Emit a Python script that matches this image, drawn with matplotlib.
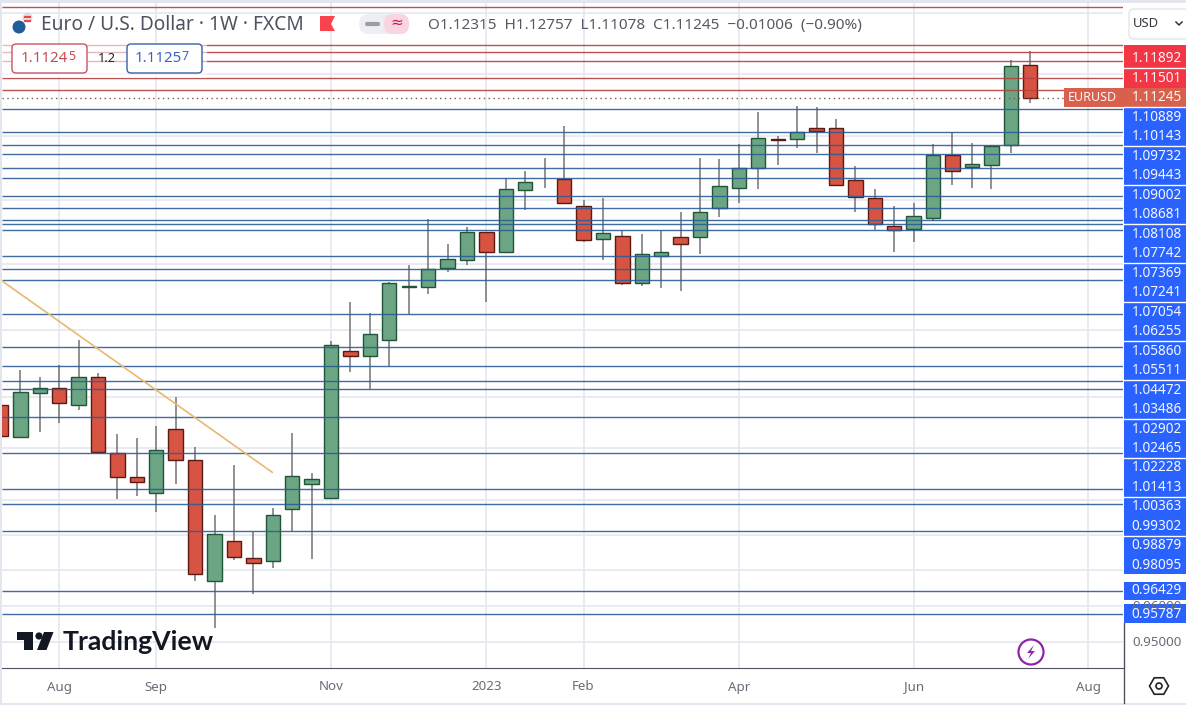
import numpy as np
import matplotlib
matplotlib.use("Agg")
import matplotlib.pyplot as plt
from matplotlib.patches import Rectangle, FancyBboxPatch, Circle, Polygon, RegularPolygon
from matplotlib.ticker import NullFormatter, NullLocator

plt.rcParams['font.family'] = ['Noto Sans', 'DejaVu Sans']

# weekly candles, first one is cut by the left edge
opens = [
    1.01750, 1.00809, 1.02103, 1.02251, 1.01750, 1.02580, 1.00343, 0.99648, 0.99185, 1.01044,
    1.00140, 0.96688, 0.97815, 0.97336, 0.97252, 0.98728, 0.99445, 0.99042, 1.03355, 1.03224,
    1.03703, 1.05284, 1.05290, 1.05892, 1.06137, 1.06983, 1.06383, 1.08293, np.nan, 1.08650,
    1.07793, 1.06784, 1.06859, 1.05432, 1.06242, 1.06827, 1.06846, 1.07731, 1.08375, 1.08988,
    1.09910, 1.09907, 1.10259, 1.10259, 1.08609, 1.08043, 1.07170, 1.07095, 1.07438, 1.09399,
    1.09030, 1.09102, 1.09716, 1.12315]
closes = [
    1.00856, 1.02132, 1.02251, 1.01809, 1.02580, 1.00390, 0.99648, 0.99520, 1.00430, 1.00140,
    0.96885, 0.98015, 0.97381, 0.97195, 0.98557, 0.99676, 0.99589, 1.03535, 1.03224, 1.03866,
    1.05413, 1.05315, 1.05843, 1.06150, 1.06983, 1.06383, 1.08324, 1.08546, np.nan, 1.07906,
    1.06753, 1.06952, 1.05432, 1.06322, 1.06383, 1.06629, 1.07606, 1.08419, 1.08998, 1.09939,
    1.09878, 1.10150, 1.10182, 1.08470, 1.08083, 1.07233, 1.07055, 1.07482, 1.09399, 1.08912,
    1.09115, 1.09684, 1.12259, 1.11245]
highs = [
    1.01750, 1.02797, 1.02598, 1.02947, 1.03694, 1.02717, 1.00906, 1.00789, 1.01141, 1.02003,
    1.00517, 0.98566, 1.00004, 0.98089, 0.98765, 1.00927, 0.99763, 1.03663, 1.04843, 1.04511,
    1.05453, 1.05975, 1.07388, 1.06620, 1.07139, 1.06983, 1.08672, 1.08903, 1.09314, 1.10333,
    1.07990, 1.08043, 1.07033, 1.06930, 1.07033, 1.07616, 1.09314, 1.09282, 1.09747, 1.10782,
    1.10012, 1.10974, 1.10932, 1.10557, 1.09061, 1.08334, 1.07803, 1.07896, 1.09747, 1.10150,
    1.09788, 1.09716, 1.12464, 1.12757]
lows = [
    1.00856, 1.00809, 1.00974, 1.01238, 1.01612, 1.00323, 0.99022, 0.99116, 0.98660, 0.99454,
    0.96705, 0.95380, 0.97297, 0.96332, 0.97063, 0.98100, 0.97316, 0.99042, 1.02747, 1.02230,
    1.02917, 1.04480, 1.05095, 1.05760, 1.05975, 1.04852, 1.06383, 1.07687, 1.08365, 1.07906,
    1.06681, 1.06137, 1.05361, 1.05339, 1.05278, 1.05177, 1.06313, 1.07469, 1.07896, 1.08343,
    1.09093, 1.09640, 1.09463, 1.08470, 1.07616, 1.07046, 1.06374, 1.06681, 1.07335, 1.08460,
    1.08365, 1.08334, 1.09463, 1.11078]

red_levels = [1.14205, 1.12950, 1.12720, 1.12430, 1.11892, 1.11501]
blue_levels = [1.10889, 1.10143, 1.09732, 1.09443, 1.09002, 1.08681, 1.08108, 1.07742, 1.07369,
               1.07241, 1.07054, 1.06255, 1.05860, 1.05511, 1.04472, 1.03486, 1.02902, 1.02465,
               1.02228, 1.01413, 1.00363, 0.99302, 0.98879, 0.98095, 0.96429, 0.95787]
last_price = 1.11245
grid_prices = [0.95, 0.96, 0.97, 0.98, 0.99, 1.005, 1.02, 1.04, 1.06, 1.08, 1.10, 1.12, 1.14]

trend_idx = [0.06, 13.97]
trend_price = [1.05484, 0.99792]

tick_idx = [3, 8, 17, 25, 30, 38, 47, 56]
tick_labels = ["Aug", "Sep", "Nov", "2023", "Feb", "Apr", "Jun", "Aug"]

stack_labels = ["1.10889", "1.10143", "1.09732", "1.09443", "1.09002", "1.08681", "1.08108",
                "1.07742", "1.07369", "1.07241", "1.07054", "1.06255", "1.05860", "1.05511",
                "1.04472", "1.03486", "1.02902", "1.02465", "1.02228", "1.01413", "1.00363",
                "0.99302", "0.98879", "0.98095"]

W, H = 1186, 705
UP, DOWN = "#6ba583", "#d75442"
UP_EDGE, DOWN_EDGE = "#225437", "#5b1a13"
BLUE_LINE, RED_LINE = "#2c5c98", "#b5403f"
LABEL_BLUE, LABEL_RED, LABEL_LAST = "#2962ff", "#f23645", "#d9604c"

fig = plt.figure(figsize=(W/100, H/100), dpi=100, facecolor="white")

# price pane: pixel x = 0.9 + 19.42*i, log price scale
ax = fig.add_axes([2/W, 1-668/H, 1121/W, 665/H])
ax.set_yscale("log")
ax.set_xlim((2-0.9)/19.42, (1123-0.9)/19.42)
ax.set_ylim(0.95*np.exp(-26/3449), 0.95*np.exp(639/3449))
ax.set_yticks(grid_prices)
ax.yaxis.set_major_formatter(NullFormatter())
ax.yaxis.set_minor_locator(NullLocator())
ax.set_xticks(tick_idx)
ax.set_xticklabels(tick_labels, fontsize=9.6, color="#6a6d78")
ax.get_xticklabels()[3].set_fontweight("bold")
ax.tick_params(length=0, pad=9)
ax.grid(True, color="#e6e8ee", lw=1.2, zorder=0)
ax.set_axisbelow(True)
for side in ["top", "left", "right"]:
    ax.spines[side].set_visible(False)
ax.spines["bottom"].set_color("#50535e")

idx = np.arange(len(opens))
o, c = np.array(opens), np.array(closes)
up = c >= o
ax.vlines(idx, lows, highs, color="#737375", lw=1.1, zorder=2)
has_body = ~np.isnan(o)
for mask, col, edge in [(up & has_body, UP, UP_EDGE), (~up & has_body, DOWN, DOWN_EDGE)]:
    ax.bar(idx[mask], np.abs(c - o)[mask], bottom=np.minimum(o, c)[mask], width=0.74,
           color=col, edgecolor=edge, lw=1.0, zorder=3)

ax.hlines(blue_levels, *ax.get_xlim(), color=BLUE_LINE, lw=1.0, alpha=0.9, zorder=4)
ax.hlines(red_levels, *ax.get_xlim(), color=RED_LINE, lw=1.0, alpha=0.9, zorder=4)
ax.hlines(last_price, ax.get_xlim()[0], (1064-0.9)/19.42, color="#7a5a50", lw=1.0,
          linestyles=(0, (1, 2.5)), zorder=4)
ax.plot(trend_idx, trend_price, color="#e9b872", lw=1.2, zorder=4)

# overlay in reference pixels for the chrome around the pane
ov = fig.add_axes([0, 0, 1, 1], zorder=5)
ov.set_xlim(0, W)
ov.set_ylim(H, 0)
ov.axis("off")
ov.patch.set_alpha(0)

ov.add_patch(Rectangle((0, 0), W, 3, color="#e3e6ee", lw=0))
ov.add_patch(Rectangle((0, 0), 2, H, color="#e3e6ee", lw=0))
ov.add_patch(Rectangle((0, 703), W, 2, color="#e3e6ee", lw=0))
ov.plot([1123.5, 1123.5], [623, 703], color="#50535e", lw=1.0)

# right scale
ov.text(1182, 642, "0.95000", ha="right", va="center", fontsize=9.6, color="#6a6d78")
ov.text(1182, 606, "0.96000", ha="right", va="center", fontsize=9.6, color="#6a6d78")
ov.add_patch(Rectangle((1124, 107), 62, 467, color=LABEL_BLUE, lw=0))
ov.add_patch(Rectangle((1124, 581.5), 62, 18.5, color=LABEL_BLUE, lw=0))
ov.add_patch(Rectangle((1124, 604), 62, 19, color=LABEL_BLUE, lw=0))
ov.add_patch(Rectangle((1124, 45), 62, 62, color=LABEL_RED, lw=0))
ov.add_patch(Rectangle((1064, 88), 122, 19, color=LABEL_LAST, lw=0))
ov.plot([1124, W], [68, 68], color="white", lw=1.0)
for k in range(12):
    ov.plot([1124, W], [107 + 39*k]*2, color="white", lw=1.0)

lab_kw = dict(ha="right", va="center", fontsize=9.8, color="white", fontweight="bold", alpha=0.95)
ov.text(1182, 59, "1.11892", **lab_kw)
ov.text(1182, 78, "1.11501", **lab_kw)
ov.text(1182, 97.5, "1.11245", **lab_kw)
ov.text(1117, 97.5, "EURUSD", ha="right", va="center", fontsize=9.0, color="white", fontweight="bold", alpha=0.95)
for k, s in enumerate(stack_labels):
    ov.text(1182, 117.5 + 19.47*k, s, **lab_kw)
ov.text(1182, 591, "0.96429", **lab_kw)
ov.text(1182, 614, "0.95787", **lab_kw)

# currency selector
ov.add_patch(Rectangle((1124, 4), 62, 38, color="white", lw=0))
ov.add_patch(FancyBboxPatch((1129, 9), 72, 30, boxstyle="round,pad=0,rounding_size=5",
                            fc="white", ec="#e3e6ee", lw=1))
ov.text(1133, 23.5, "USD", va="center", fontsize=9.4, color="#333640")
ov.plot([1176, 1179, 1182], [22, 25, 22], color="#333640", lw=1.1)

# header legend
ov.add_patch(Circle((19, 27), 6.5, color="#1f5c99", lw=0))
ov.add_patch(Circle((27.5, 18), 5, color="#d9d9e6", lw=0))
ov.add_patch(Rectangle((24, 15.5), 7, 2, color="#e8474c", lw=0))
ov.add_patch(Rectangle((24, 20), 7, 2, color="#e8474c", lw=0))
ov.text(41, 25, "Euro / U.S. Dollar \u00b7 1W \u00b7 FXCM", va="center", fontsize=13.8, color="#4f5260")
ov.add_patch(Polygon([(320, 16), (335, 16), (331, 24), (335, 31), (320, 31)], color="#f9444e", lw=0))
ov.add_patch(FancyBboxPatch((359, 14), 50, 20, boxstyle="round,pad=0,rounding_size=10",
                            fc="#eceef2", ec="none"))
ov.add_patch(FancyBboxPatch((384, 14), 25, 20, boxstyle="round,pad=0,rounding_size=9",
                            fc="#f9d5df", ec="none"))
ov.plot([367, 378], [23.5, 23.5], color="#9a9ca6", lw=3, solid_capstyle="round")
ov.text(396.5, 23, "\u2248", ha="center", va="center", fontsize=11, color="#c2185b")
ov.text(428, 25, "O1.12315  H1.12757  L1.11078  C1.11245  \u22120.01006  (\u22120.90%)",
        va="center", fontsize=11, color="#555863")

# buy / sell boxes
ov.add_patch(Rectangle((2, 43), 205, 35, color="white", alpha=0.6, lw=0))
ov.add_patch(FancyBboxPatch((12, 44), 75, 29, boxstyle="round,pad=0,rounding_size=4",
                            fc="white", ec="#c85560", lw=1))
ov.add_patch(FancyBboxPatch((127, 44), 75, 29, boxstyle="round,pad=0,rounding_size=4",
                            fc="white", ec="#3a5fa8", lw=1))
ov.text(68, 59, "1.1124", ha="right", va="center", fontsize=10.8, color="#c84a50")
ov.text(68, 57, "5", ha="left", va="center", fontsize=9, color="#c84a50")
ov.text(107, 59, "1.2", ha="center", va="center", fontsize=9.2, color="#222")
ov.text(182, 59, "1.1125", ha="right", va="center", fontsize=10.8, color="#3a5fc8")
ov.text(182, 57, "7", ha="left", va="center", fontsize=9, color="#3a5fc8")

# watermark
ov.add_patch(Polygon([(17, 632), (33, 632), (33, 650), (24, 650), (24, 640), (17, 640)],
                     color="#131722", lw=0))
ov.add_patch(Circle((39, 636), 3.6, color="#131722", lw=0))
ov.add_patch(Polygon([(44, 632), (53.5, 632), (46.5, 650), (37, 650)], color="#131722", lw=0))
ov.text(63, 641.5, "TradingView", va="center", fontsize=19.2, color="#131722",
        fontweight="bold", family=["Lato", "DejaVu Sans"])

# lightning and settings icons
ov.add_patch(Circle((1031, 652), 12.5, fc="white", ec="#8e24aa", lw=1.6))
ov.add_patch(Polygon([(1034, 645), (1027, 653), (1031, 653), (1028, 659), (1035, 651), (1031, 651)],
                     color="#8e24aa", lw=0))
ov.add_patch(RegularPolygon((1159, 686), 6, radius=9.5, orientation=np.pi/2, fc="none", ec="#222", lw=1.2))
ov.add_patch(Circle((1159, 686), 3, fc="none", ec="#222", lw=1.2))

fig.savefig("out.png", dpi=100, facecolor="white")
